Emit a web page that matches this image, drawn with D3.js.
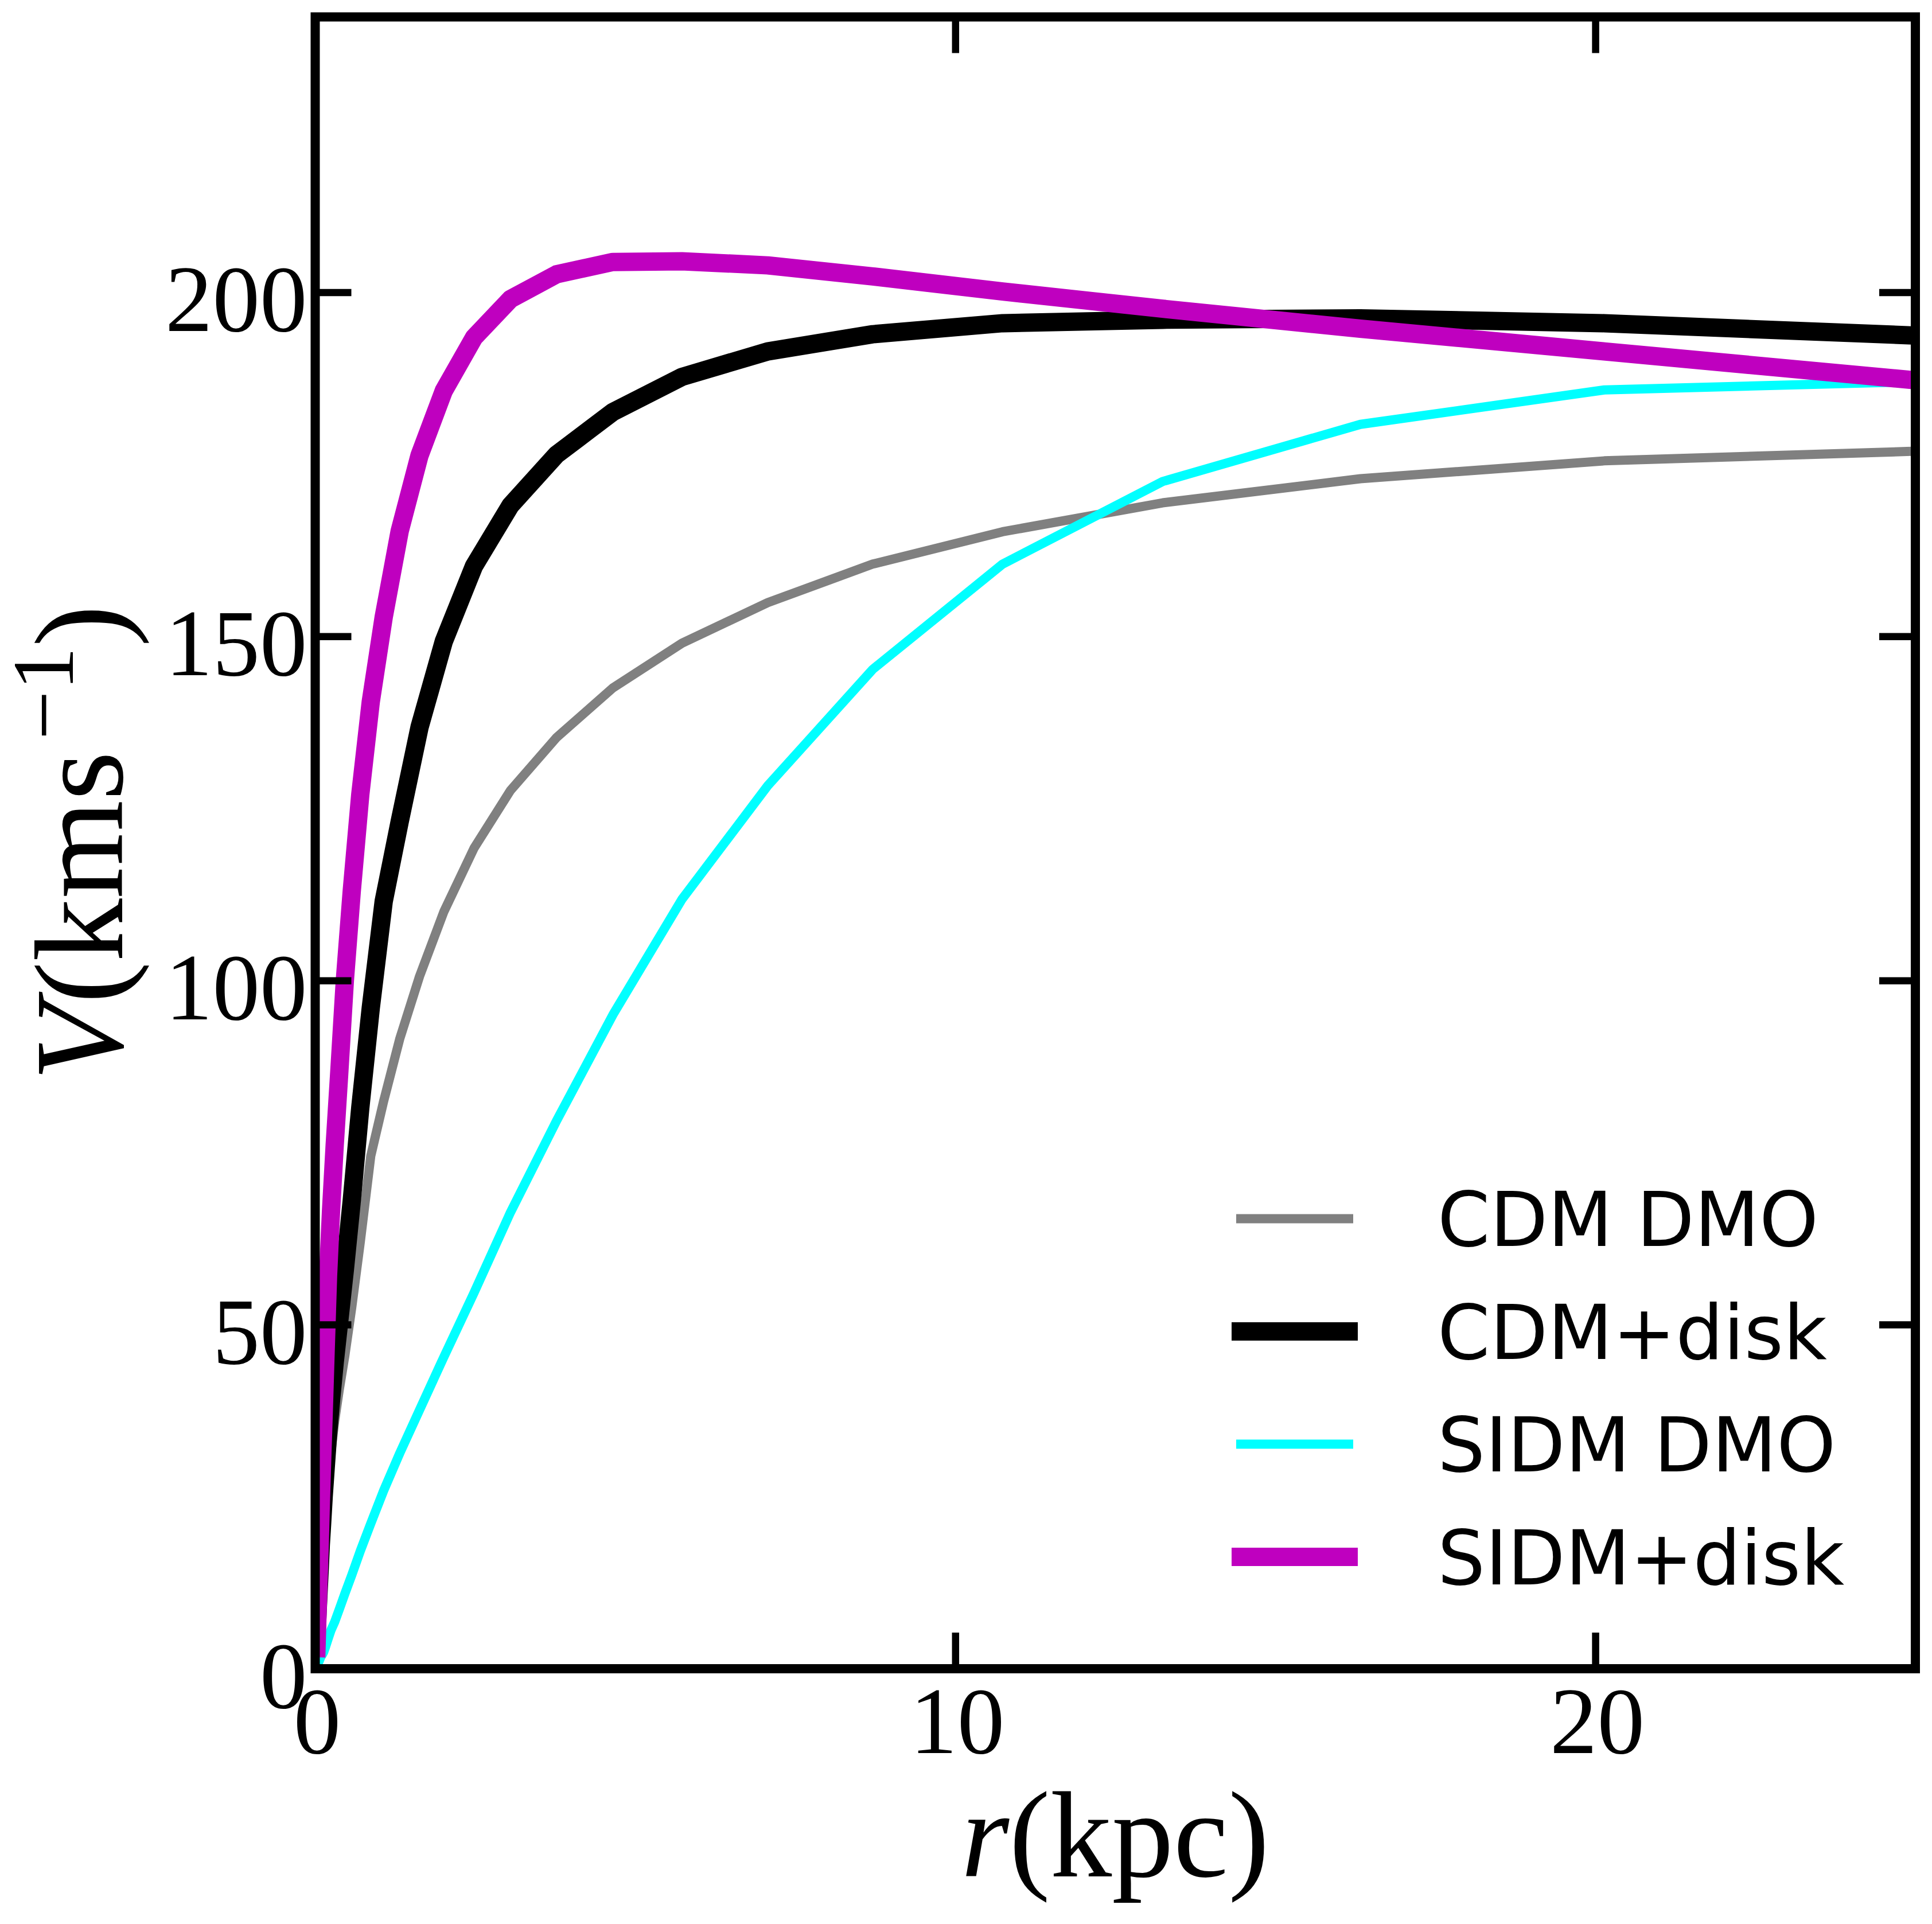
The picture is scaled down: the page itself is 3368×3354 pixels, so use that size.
<!DOCTYPE html>
<html><head><meta charset="utf-8">
<script src="https://cdn.jsdelivr.net/npm/d3@7"></script>
<style>html,body{margin:0;padding:0;background:#fff;}</style>
</head><body>
<svg id="chart" width="3368" height="3354" xmlns="http://www.w3.org/2000/svg"></svg>
<script>
// ---- data ----
const radius    = [0.020, 0.046, 0.070, 0.087, 0.107, 0.132, 0.162, 0.200, 0.247, 0.304, 0.375, 0.463, 0.571, 0.704, 0.868, 1.07, 1.32, 1.63, 2.01, 2.48, 3.05, 3.77, 4.65, 5.73, 7.07, 8.71, 10.74, 13.24, 16.33, 20.14, 25.0];
const cdmDMO    = [3, 6.5, 10, 12.5, 15, 18.5, 22.5, 27, 31.5, 36, 40.5, 45.5, 52.5, 62, 74.5, 82.5, 91.5, 100.6, 110, 119.2, 127.6, 135.3, 142.5, 149.0, 154.9, 160.5, 165.2, 169.4, 172.9, 175.5, 176.9];
const cdmDisk   = [5, 10, 14.5, 18, 21, 25, 29, 34, 39, 44.5, 50.5, 58, 68, 81.5, 96, 111.5, 123.1, 136.8, 149.3, 160.2, 169.0, 176.4, 182.6, 187.7, 191.4, 193.9, 195.5, 196.0, 196.2, 195.5, 193.7];
const sidmDMO   = [0.3, 0.8, 1.3, 1.7, 2.0, 2.4, 3.2, 4.3, 5.6, 6.8, 8.6, 10.9, 13.6, 17.1, 21.1, 25.9, 31.3, 37.6, 45.3, 54.6, 66.3, 79.6, 95.0, 111.8, 128.3, 145.2, 160.5, 172.5, 180.8, 185.8, 187.0];
const sidmDisk  = [3, 11, 18, 24, 30, 37, 46, 57, 66.5, 76, 86.5, 100, 113, 127, 140.5, 152.8, 165.3, 176.3, 185.7, 193.4, 199.0, 202.6, 204.4, 204.5, 203.9, 202.3, 200.1, 197.6, 194.7, 191.4, 187.2];
const seriesNames  = ["CDM DMO", "CDM+disk", "SIDM DMO", "SIDM+disk"];
const seriesColors = ["#808080", "#000000", "#00ffff", "#bf00bf"];
const xTicks = [0, 10, 20];
const yTicks = [0, 50, 100, 150, 200];
const xDomain = [0, 25];
const yDomain = [0, 240];

// ---- layout ----
const L = 549.5, R = 3339, T = 29.5, B = 2909;
const svg = d3.select("#chart");
svg.append("rect").attr("width", 3368).attr("height", 3354).attr("fill", "#fff");

const x = d3.scaleLinear().domain(xDomain).range([L, R]);
const y = d3.scaleLinear().domain(yDomain).range([B, T]);

svg.append("defs").append("clipPath").attr("id", "clip")
  .append("rect").attr("x", L).attr("y", T).attr("width", R - L).attr("height", B - T);

const seriesValues = [cdmDMO, cdmDisk, sidmDMO, sidmDisk];
const widths = [16, 32, 16, 32];
const line = d3.line().x(d => x(d[0])).y(d => y(d[1]));

const gLines = svg.append("g").attr("clip-path", "url(#clip)");
seriesValues.forEach((vals, i) => {
  gLines.append("path")
    .datum(radius.map((r, k) => [r, vals[k]]))
    .attr("d", line)
    .attr("fill", "none")
    .attr("stroke", seriesColors[i])
    .attr("stroke-width", widths[i])
    .attr("stroke-linejoin", "round")
    .attr("stroke-linecap", "square");
});

// ---- axes ----
const tickLen = 63;
const serif = "'Liberation Serif', 'Times New Roman', serif";

const axB = svg.append("g").attr("transform", `translate(0,${B})`)
  .call(d3.axisBottom(x).tickValues(xTicks).tickSize(-tickLen).tickPadding(0).tickFormat(d3.format("d")));
const axL = svg.append("g").attr("transform", `translate(${L},0)`)
  .call(d3.axisLeft(y).tickValues(yTicks).tickSize(-tickLen).tickPadding(14).tickFormat(d3.format("d")));
const axT = svg.append("g").attr("transform", `translate(0,${T})`)
  .call(d3.axisTop(x).tickValues(xTicks).tickSize(-tickLen).tickFormat(""));
const axR = svg.append("g").attr("transform", `translate(${R},0)`)
  .call(d3.axisRight(y).tickValues(yTicks).tickSize(-tickLen).tickFormat(""));

[axB, axL, axT, axR].forEach(g => {
  g.select(".domain").remove();
  g.selectAll(".tick line").attr("stroke", "#000").attr("stroke-width", 12.5);
  g.selectAll("text").attr("font-family", serif).attr("font-size", 165).attr("fill", "#000");
});
axB.selectAll(".tick text").attr("y", 147).attr("dy", 0).attr("dx", 3);
axL.selectAll(".tick text").attr("x", -14).attr("dy", 0).attr("y", 67);

// frame
svg.append("rect").attr("x", L).attr("y", T).attr("width", R - L).attr("height", B - T)
  .attr("fill", "none").attr("stroke", "#000").attr("stroke-width", 16);

// axis labels
const xl = svg.append("text").attr("x", (L + R) / 2).attr("y", 3271)
  .attr("text-anchor", "middle").attr("font-family", serif).attr("font-size", 215).attr("fill", "#000");
xl.append("tspan").attr("font-style", "italic").text("r");
xl.append("tspan").text("(kpc)");

const yl = svg.append("text").attr("transform", `translate(213,${(T + B) / 2}) rotate(-90)`)
  .attr("text-anchor", "middle").attr("font-family", serif).attr("font-size", 220).attr("fill", "#000");
yl.append("tspan").attr("font-style", "italic").text("V");
yl.append("tspan").text("(kms");
yl.append("tspan").attr("font-size", 152).attr("dy", -86).attr("dx", 20).text("\u22121");
yl.append("tspan").attr("dy", 86).text(")");

// legend
const legX1 = 2163, legX2 = 2351, legTextX = 2506, legY0 = 2124.5, legStep = 196.5;
const leg = svg.append("g");
seriesNames.forEach((name, i) => {
  const cy = legY0 + i * legStep;
  leg.append("line").attr("x1", legX1).attr("x2", legX2).attr("y1", cy).attr("y2", cy)
    .attr("stroke", seriesColors[i]).attr("stroke-width", widths[i]).attr("stroke-linecap", "square");
  leg.append("text").attr("x", legTextX).attr("y", cy + 47.5)
    .attr("font-family", "'DejaVu Sans', sans-serif").attr("font-size", 131).attr("fill", "#000")
    .text(name);
});
</script>
</body></html>
